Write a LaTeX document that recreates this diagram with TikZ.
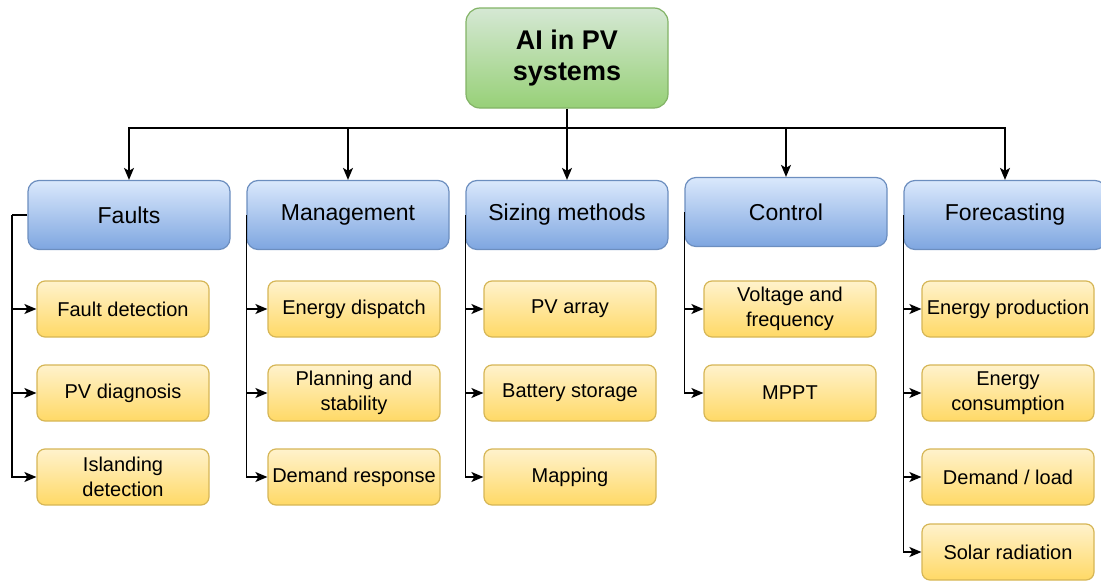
\documentclass[tikz,border=0pt]{standalone}
\usepackage{fontspec}
\setmainfont{Liberation Sans}
\usetikzlibrary{arrows.meta}

\definecolor{greenTop}{HTML}{D5E8D4}
\definecolor{greenBot}{HTML}{97D077}
\definecolor{greenLine}{HTML}{82B366}
\definecolor{blueTop}{HTML}{DAE8FC}
\definecolor{blueBot}{HTML}{7EA6E0}
\definecolor{blueLine}{HTML}{6C8EBF}
\definecolor{yelTop}{HTML}{FFF2CC}
\definecolor{yelBot}{HTML}{FFD966}
\definecolor{yelLine}{HTML}{D6B656}

\tikzset{
  rootbox/.style={draw=greenLine, line width=1.2pt, top color=greenTop, bottom color=greenBot,
    rounded corners=14pt, minimum width=202pt, minimum height=100pt, align=center,
    font=\fontsize{27}{31}\selectfont\bfseries, inner sep=0pt},
  catbox/.style={draw=blueLine, line width=1.2pt, top color=blueTop, bottom color=blueBot,
    rounded corners=11pt, minimum width=202pt, minimum height=69pt, align=center,
    font=\fontsize{23}{27}\selectfont, inner sep=0pt},
  leafbox/.style={draw=yelLine, line width=1.2pt, top color=yelTop, bottom color=yelBot,
    rounded corners=8pt, minimum width=172pt, minimum height=56pt, align=center,
    font=\fontsize{20}{25}\selectfont, inner sep=0pt},
  link/.style={line width=1.5pt, -{Stealth[length=12pt,width=10pt,inset=3pt]}},
  plainlink/.style={line width=1.5pt},
}

\begin{document}
\begin{tikzpicture}[x=1pt,y=-1pt]
\useasboundingbox (0,0) rectangle (1101,581);

% root
\node[rootbox] (root) at (567,58) {AI in PV\\systems};

% categories
\node[catbox] (faults) at (129,215) {Faults};
\node[catbox] (mgmt)   at (348,215) {Management};
\node[catbox] (sizing) at (567,215) {Sizing methods};
\node[catbox] (ctrl)   at (786,212) {Control};
\node[catbox] (fcast)  at (1005,215) {Forecasting};

% leaves: faults
\node[leafbox] (f1) at (123,309) {Fault detection};
\node[leafbox] (f2) at (123,393) {PV diagnosis};
\node[leafbox] (f3) at (123,477) {Islanding\\detection};
% leaves: management
\node[leafbox] (m1) at (354,309) {Energy dispatch};
\node[leafbox] (m2) at (354,393) {Planning and\\stability};
\node[leafbox] (m3) at (354,477) {Demand response};
% leaves: sizing
\node[leafbox] (s1) at (570,309) {PV array};
\node[leafbox] (s2) at (570,393) {Battery storage};
\node[leafbox] (s3) at (570,477) {Mapping};
% leaves: control
\node[leafbox] (c1) at (790,309) {Voltage and\\frequency};
\node[leafbox] (c2) at (790,393) {MPPT};
% leaves: forecasting
\node[leafbox] (p1) at (1008,309) {Energy production};
\node[leafbox] (p2) at (1008,393) {Energy\\consumption};
\node[leafbox] (p3) at (1008,477) {Demand / load};
\node[leafbox] (p4) at (1008,552) {Solar radiation};

% bus from root to categories
\coordinate (bus) at (567,128);
\draw[plainlink] (root.south) -- (bus);
\foreach \c in {faults,mgmt,sizing,ctrl,fcast}
  \draw[link] (bus) -| (\c.north);

% faults branch runs along the left margin
\coordinate (fbus) at (12,215);
\draw[plainlink] (faults.west) -- (fbus);
\foreach \l in {f1,f2,f3}
  \draw[link] (fbus) |- (\l.west);

% other branches drop from the category's left edge
\foreach \l in {m1,m2,m3}
  \draw[link] (mgmt.west) |- (\l.west);
\foreach \l in {s1,s2,s3}
  \draw[link] (sizing.west) |- (\l.west);
\foreach \l in {c1,c2}
  \draw[link] (ctrl.west) |- (\l.west);
\foreach \l in {p1,p2,p3,p4}
  \draw[link] (fcast.west) |- (\l.west);
\end{tikzpicture}
\end{document}
